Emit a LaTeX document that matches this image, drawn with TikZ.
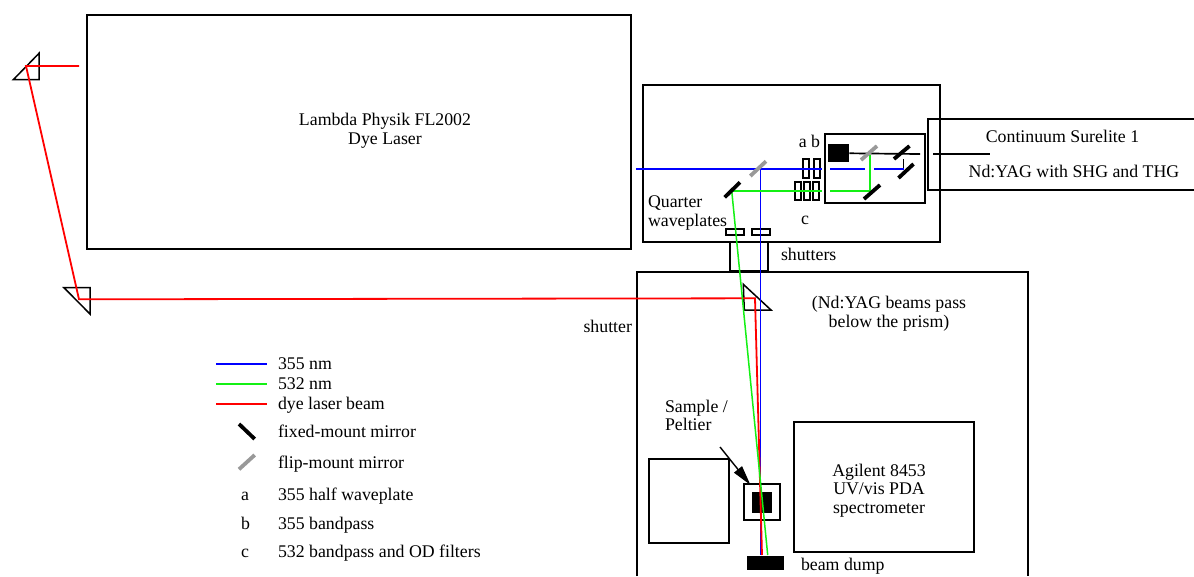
\documentclass[tikz,border=0pt]{standalone}
\usepackage{fontspec}
\setmainfont{Liberation Serif}
\usetikzlibrary{arrows.meta}
\definecolor{beamgreen}{RGB}{20,240,20}
\tikzset{
  box/.style={draw=black,line width=1.8pt,inner sep=0pt,outer sep=0pt,fill=none},
  thinbox/.style={draw=black,line width=1.8pt,inner sep=0pt,outer sep=0pt},
  solid box/.style={fill=black,draw=none,inner sep=0pt,outer sep=0pt},
  txt/.style={inner sep=0pt,outer sep=0pt,font=\fontsize{17.8}{18.7}\selectfont,align=center},
  ltxt/.style={txt,anchor=west,align=left},
  btxt/.style={txt,anchor=base west,align=left},
  fixedm/.style={line width=3.8pt,black},
  flipm/.style={line width=3.8pt,black!40},
  bluebeam/.style={blue,line width=1.9pt},
  greenbeam/.style={beamgreen,line width=2pt},
  redbeam/.style={red,line width=1.8pt},
  prism/.style={draw=black,line width=1.5pt,line join=miter},
}
\newcommand{\bx}[6][box]{\node[#1,minimum width=#5pt-#3pt,minimum height=#6pt-#4pt] (#2) at ({(#3+#5)/2},{(#4+#6)/2}) {};}
\begin{document}
\begin{tikzpicture}[x=1pt,y=-1pt]
\useasboundingbox (0,0) rectangle (1194,576);
% boxes
\bx{dye}{87}{15}{631}{249}
\bx{table}{643}{85}{940}{242}
\bx{inner}{825}{134}{925}{203}
\bx{shut}{730}{242}{768}{271}
\bx[thinbox]{qwa}{726}{229}{744}{235}
\bx[thinbox]{qwb}{752}{229}{770}{235}
\bx[thinbox]{fa}{803}{159}{809}{178}
\bx[thinbox]{fb}{814}{159}{820}{178}
\bx[thinbox]{fc}{795}{182}{801}{200}
\bx[thinbox]{fd}{804}{182}{810}{200}
\bx[thinbox]{fe}{813}{182}{819}{200}
\bx{cell}{649}{459}{729}{543}
\bx{agilent}{794}{422}{974}{552}
\bx{sample}{744}{484}{780}{520}
\bx[solid box]{yag}{827.7}{144.3}{849.3}{162.3}
\bx[solid box]{samplecore}{751.7}{492.3}{772.3}{512.7}
\bx[solid box]{dump}{746.7}{556.3}{783.7}{570}
% boxes running off the page
\draw[box] (1194,119) -- (928,119) -- (928,190) -- (1194,190);
\draw[box] (637,576) -- (637,272) -- (1028,272) -- (1028,576);
% beam points
\coordinate (p1) at (26,66);
\coordinate (p1s) at (79,66);
\coordinate (p2) at (79,299.3);
\coordinate (p3) at (755,298.3);
\coordinate (rend) at (762,555);
\coordinate (bstart) at (636,169);
\coordinate (bflt) at (822,169);
\coordinate (bturn) at (760.7,169);
\coordinate (bend) at (760.7,555);
\coordinate (gm) at (731.7,190.5);
\coordinate (gflt) at (822,190.5);
\coordinate (gend) at (767.7,555);
% prisms
\draw[prism] (13.3,79.7) -- (39,53.3) -- (39,79.7) -- cycle;
\draw[prism] (64,287.7) -- (90,287.7) -- (90,314) -- cycle;
\draw[prism] (743.3,284.3) -- (771,310) -- (744.3,310) -- cycle;
% black beams
\draw[black,line width=1.7pt] (yag.east) -- (920,154);
\draw[black,line width=1.7pt] (933,154) -- (990,154);
\draw[black,line width=1.2pt] (903.5,159) -- (903.5,169);
% blue beams
\draw[bluebeam] (bstart) -- (bflt);
\draw[bluebeam] (830,169) -- (865,169);
\draw[blue,line width=1.2pt] (874,169) -- (903.5,169);
\draw[blue,line width=1.4pt] (bturn) -- (bend);
% red beams
\draw[redbeam] (p1s) -- (p1) -- (p2) -- (p3) -- (rend);
% green beams
\draw[greenbeam] (gflt) -- (gm);
\draw[greenbeam] (830,190.5) -- (869.5,190.5) -- (869.5,155);
\draw[beamgreen,line width=1.5pt] (gm) -- (gend);
% mirrors
\draw[flipm] (861,160) -- (877,146);
\draw[fixedm] (894,159) -- (909.5,146);
\draw[fixedm] (898.5,178) -- (913.5,164);
\draw[fixedm] (864,199) -- (880,185);
\draw[fixedm] (724.7,197.3) -- (740,182.3);
\draw[flipm] (750.3,176) -- (766,161.3);
% labels
\node[txt] (tdye) at (385,131) {Lambda Physik FL2002\\Dye Laser};
\node[txt] (tcont) at (1062.5,136) {Continuum Surelite 1};
\node[txt] (tnd) at (1074,171) {Nd:YAG with SHG and THG};
\node[txt] (tab) at (809.5,141) {a b};
\node[txt] (tc) at (805,220) {c};
\node[ltxt] (tqw) at (648,213) {Quarter\\[1pt]waveplates};
\node[ltxt] (tsh) at (781,254.5) {shutters};
\node[txt] (tpass) at (889,313.5) {(Nd:YAG beams pass\\below the prism)};
\node[txt,anchor=east] (tshutter) at (632,326) {shutter};
\node[ltxt] (tsample) at (665,415.5) {Sample /\\Peltier};
\node[txt] (tag) at (879,490.5) {Agilent 8453\\UV/vis PDA\\spectrometer};
\node[ltxt] (tdump) at (801,566) {beam dump};
\coordinate (atail) at (720,447);
\draw[black,line width=1.4pt,-{Triangle[length=20pt,width=10pt]}] (atail) -- (750.5,485);
% legend
\coordinate (l1a) at (216,364); \coordinate (l1b) at (267,364);
\coordinate (l2a) at (216,384); \coordinate (l2b) at (267,384);
\coordinate (l3a) at (216,404); \coordinate (l3b) at (267,404);
\draw[blue,line width=1.3pt] (l1a) -- (l1b);
\draw[beamgreen,line width=1.5pt] (l2a) -- (l2b);
\draw[red,line width=1.3pt] (l3a) -- (l3b);
\draw[fixedm] (239,424) -- (254.7,439);
\draw[flipm] (239,469.3) -- (254.7,455);
\node[btxt] (k1) at (278,369.7) {355 nm};
\node[btxt] (k2) at (278,389.7) {532 nm};
\node[btxt] (k3) at (278,409.7) {dye laser beam};
\node[btxt] (k4) at (278,437.9) {fixed-mount mirror};
\node[btxt] (k5) at (278,468.9) {flip-mount mirror};
\node[btxt] (k6) at (278,500.9) {355 half waveplate};
\node[btxt] (k7) at (278,529.3) {355 bandpass};
\node[btxt] (k8) at (278,557.9) {532 bandpass and OD filters};
\node[btxt] (ka) at (241,500.9) {a};
\node[btxt] (kb) at (241,529.3) {b};
\node[btxt] (kc) at (241,557.9) {c};
\end{tikzpicture}
\end{document}
